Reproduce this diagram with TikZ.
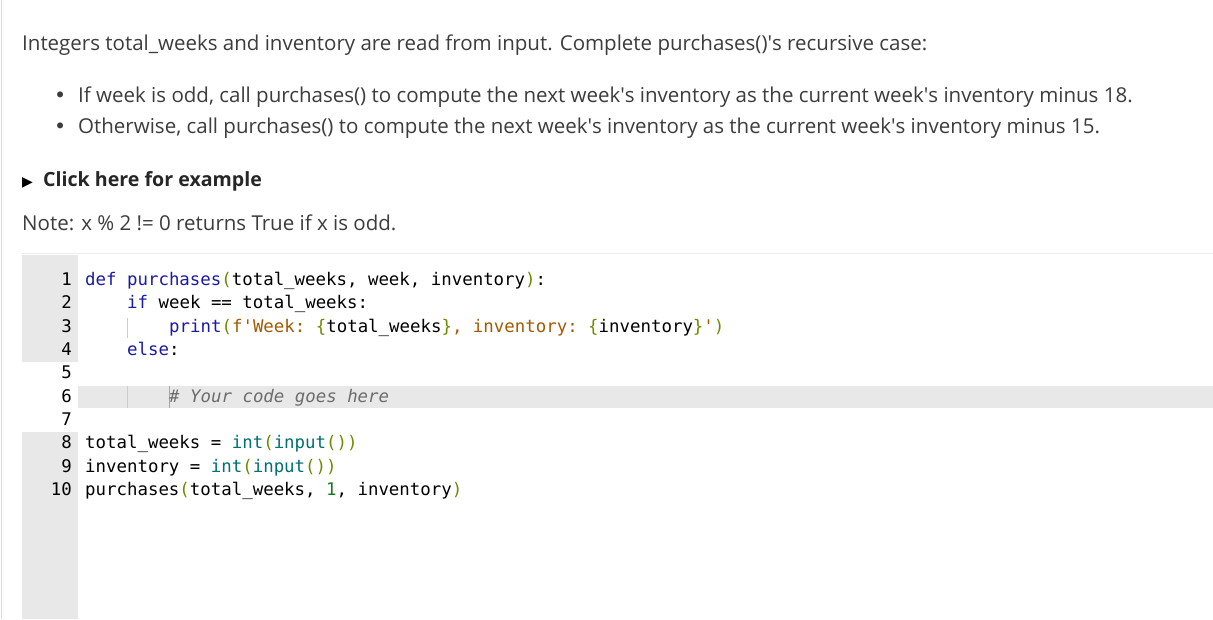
\documentclass[tikz,border=0pt]{standalone}
\usepackage{fontspec}
\setmainfont{Open Sans}
\setmonofont{DejaVu Sans Mono}
\newfontfamily\symfont{DejaVu Sans}
\definecolor{kwblue}{HTML}{1A1AA6}
\definecolor{strbrown}{HTML}{A35A00}
\definecolor{brgreen}{HTML}{6E8B00}
\definecolor{fnteal}{HTML}{007070}
\definecolor{numgreen}{HTML}{1E7A1E}
\definecolor{gutter}{HTML}{E8E8E8}
\definecolor{txtgray}{HTML}{3C3C3C}
\newcommand{\kw}[1]{\textcolor{kwblue}{#1}}
\newcommand{\st}[1]{\textcolor{strbrown}{#1}}
\newcommand{\br}[1]{\textcolor{brgreen}{#1}}
\newcommand{\fn}[1]{\textcolor{fnteal}{#1}}
\newcommand{\nm}[1]{\textcolor{numgreen}{#1}}
\newcommand{\us}{\_}
\newcommand{\ap}{\textquotesingle}
\tikzset{
  prose/.style={anchor=base west, inner sep=0pt, text=txtgray, font=\fontsize{20.5}{24}\selectfont},
  bullet/.style={anchor=base west, inner sep=0pt, text=txtgray, font=\symfont\fontsize{20.5}{24}\selectfont},
  code/.style={anchor=base west, inner sep=0pt, font=\ttfamily\fontsize{17.4}{20}\selectfont},
  lnum/.style={anchor=base east, inner sep=0pt, font=\ttfamily\fontsize{17.4}{20}\selectfont}
}
\begin{document}
\begin{tikzpicture}[x=1pt,y=-1pt]
\useasboundingbox (0,0) rectangle (1213,619);
\fill[white] (0,0) rectangle (1213,619);
\draw[gray!30] (1.5,0) -- (1.5,619);
% code panel
\draw[gray!15] (22,253) -- (1213,253);
\fill[gutter] (22,255) rectangle (78,362);
\fill[gutter] (22,432) rectangle (78,619);
\fill[gutter] (78,386) rectangle (1213,408);
\draw[gray!40] (127,318) -- (127,338);
\draw[gray!40] (127,386) -- (127,408);
\draw[gray!70,line width=1pt] (169,386) -- (169,408);
% prose
\node[prose] (title) at (22,50) {Integers total\us weeks and inventory are read from input. Complete purchases()\ap s recursive case:};
\node[bullet] (b1) at (54,102) {•};
\node[prose] (t1) at (78,102) {If week is odd, call purchases() to compute the next week\ap s inventory as the current week\ap s inventory minus 18.};
\node[bullet] (b2) at (54,133) {•};
\node[prose] (t2) at (78,133) {Otherwise, call purchases() to compute the next week\ap s inventory as the current week\ap s inventory minus 15.};
\node[prose, text=black, font=\symfont\fontsize{14}{16}\selectfont] (tri) at (22,186) {▶};
\node[prose, text=black!85, font=\bfseries\fontsize{19.6}{22}\selectfont] (click) at (43,186) {Click here for example};
\node[prose] (note) at (22,230) {Note: x \% 2 != 0 returns True if x is odd.};
% line numbers
\foreach \i [count=\n] in {285,308,332,355,378,402,425,448,472,495}
  \node[lnum] (ln\n) at (72,\i) {\n};
% code lines
\node[code] (c1) at (85,285) {\kw{def} \kw{purchases}\br{(}total\us weeks, week, inventory\br{)}:};
\node[code] (c2) at (127,308) {\kw{if} week == total\us weeks:};
\node[code] (c3) at (169,332) {\kw{print}\br{(}\st{f\ap Week: }\br{\{}total\us weeks\br{\}}\st{, inventory: }\br{\{}inventory\br{\}}\st{\ap}\br{)}};
\node[code] (c4) at (127,355) {\kw{else}:};
\node[code, text=gray!85!black, font=\ttfamily\itshape\fontsize{17.4}{20}\selectfont] (c6) at (169,402) {\# Your code goes here};
\node[code] (c8) at (85,448) {total\us weeks = \fn{int}\br{(}\fn{input}\br{())}};
\node[code] (c9) at (85,472) {inventory = \fn{int}\br{(}\fn{input}\br{())}};
\node[code] (c10) at (85,495) {purchases\br{(}total\us weeks, \nm{1}, inventory\br{)}};
\end{tikzpicture}
\end{document}
